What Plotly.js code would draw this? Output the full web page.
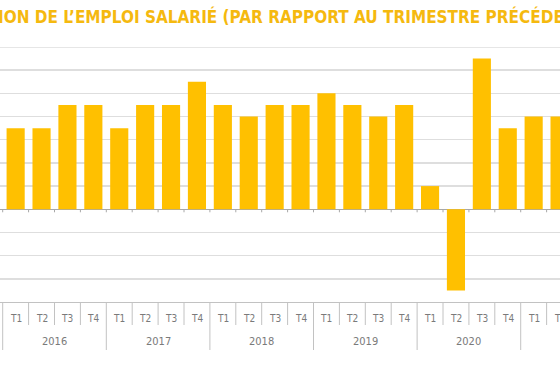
<!DOCTYPE html>
<html>
<head>
<meta charset="utf-8">
<script src="https://cdn.plot.ly/plotly-3.0.1.min.js"></script>
<style>html,body{margin:0;padding:0;background:#fff;}#chart{width:560px;height:373px;}</style>
</head>
<body>
<div id="chart"></div>
<script>
const titleText = "ÉVOLUTION DE L’EMPLOI SALARIÉ (PAR RAPPORT AU TRIMESTRE PRÉCÉDENT)";
const years = ["2016","2016","2016","2016","2017","2017","2017","2017","2018","2018","2018","2018","2019","2019","2019","2019","2020","2020","2020","2020","2021","2021"];
const quarters = ["T1","T2","T3","T4","T1","T2","T3","T4","T1","T2","T3","T4","T1","T2","T3","T4","T1","T2","T3","T4","T1","T2"];
const values = [0.35,0.35,0.45,0.45, 0.35,0.45,0.45,0.55, 0.45,0.40,0.45,0.45, 0.50,0.45,0.40,0.45, 0.10,-0.35,0.65,0.35, 0.40,0.40];

const categories = years.map((y, i) => y + " " + quarters[i]);

const yMin = -0.4, yMax = 0.7;
const xRange = [-0.604, 21.017];
const gold = "#FFC000";
const lineGray = "#c2c2c2";
const labelGray = "#7a7a7a";
const plotH = 255; // px height of plotting area
const px = p => -p / plotH; // paper y for p pixels below the plot bottom
const qFont = {family: "DejaVu Sans Condensed, DejaVu Sans, sans-serif", size: 10, color: labelGray};
const yFont = {family: "DejaVu Sans Condensed, DejaVu Sans, sans-serif", size: 11, color: labelGray};

const shapes = [];
const annotations = [];

// top gridline (range edge)
shapes.push({type: "line", xref: "paper", yref: "y", x0: 0, x1: 1, y0: yMax, y1: yMax,
  line: {color: "#dedede", width: 1.5}, layer: "below"});

// zero line boundary ticks, quarter separators, year separators
for (let i = 0; i <= categories.length; i++) {
  const xb = i - 0.5;
  shapes.push({type: "line", xref: "x", yref: "y", x0: xb, x1: xb, y0: 0, y1: -0.013,
    line: {color: "#a8a8a8", width: 1}});
  const newYear = (i === 0) || (i < years.length && years[i] !== years[i - 1]);
  shapes.push({type: "line", xref: "x", yref: "paper", x0: xb, x1: xb, y0: 0,
    y1: newYear ? px(48) : px(23), line: {color: lineGray, width: 1}});
}
// quarter labels
quarters.forEach((q, i) => {
  annotations.push({text: q, x: i, xref: "x", y: px(16), yref: "paper",
    showarrow: false, xanchor: "center", yanchor: "middle", font: qFont});
});
// year labels, centred over the four quarters of each year
years.forEach((y, i) => {
  if (i === 0 || y !== years[i - 1]) {
    annotations.push({text: y, x: i + 1.5, xref: "x", y: px(40), yref: "paper",
      showarrow: false, xanchor: "center", yanchor: "middle", font: yFont});
  }
});
// title
annotations.push({
  text: titleText, showarrow: false,
  xref: "paper", yref: "paper", xanchor: "left", yanchor: "middle",
  x: -0.127, y: 1 + (47 - 16.5) / plotH,
  font: {family: "DejaVu Sans Condensed, DejaVu Sans, sans-serif", size: 17, color: "#F5B90F", weight: "bold"}
});

const trace = {
  type: "bar",
  x: categories,
  y: values,
  marker: {color: gold},
  hoverinfo: "skip"
};

const layout = {
  width: 560, height: 373,
  margin: {l: 0, r: 0, t: 47, b: 71, pad: 0},
  paper_bgcolor: "#fff", plot_bgcolor: "#fff",
  showlegend: false,
  bargap: 0.3,
  xaxis: {
    type: "category", range: xRange,
    showticklabels: false, ticks: "",
    showline: true, linecolor: lineGray, linewidth: 1,
    showgrid: false, zeroline: false
  },
  yaxis: {
    range: [yMin, yMax], dtick: 0.1, tick0: 0,
    showticklabels: false, ticks: "",
    showgrid: true, gridcolor: "#dedede", gridwidth: 1.5,
    zeroline: true, zerolinecolor: "#a8a8a8", zerolinewidth: 1
  },
  shapes: shapes,
  annotations: annotations
};

Plotly.newPlot("chart", [trace], layout, {displayModeBar: false, staticPlot: true});
</script>
</body>
</html>
